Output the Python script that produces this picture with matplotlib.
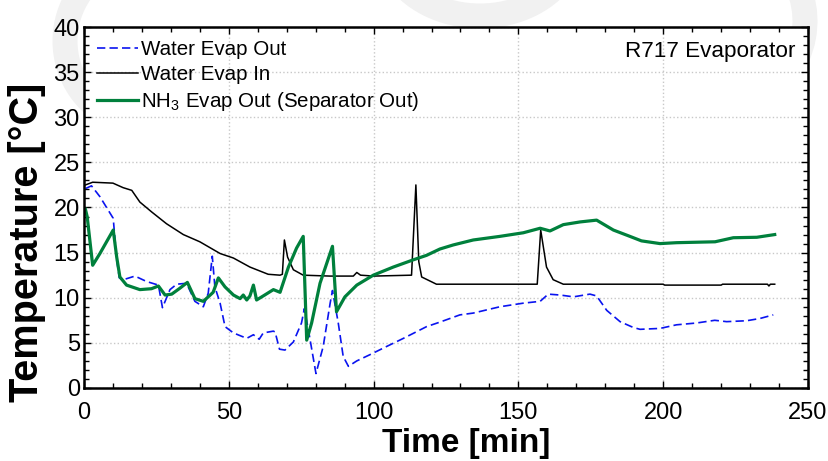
import numpy as np
import matplotlib.pyplot as plt
from matplotlib.ticker import MultipleLocator
from matplotlib.patches import Arc

plt.rcParams['font.family'] = ['Liberation Sans', 'DejaVu Sans']
plt.rcParams['mathtext.fontset'] = 'custom'
plt.rcParams['mathtext.rm'] = 'Liberation Sans'

# Water Evap In (black)
t_in = [0.5, 3, 10, 13.5, 16.5, 19.3, 23.4, 28.5, 34.3, 40, 47, 51.6, 57.3, 63.6, 67.7,
        68.5, 69.2, 70.3, 72.3, 75.7, 85, 93, 94.2, 95.5, 100, 113.1, 114.6, 115.6, 116.6,
        121.7, 156.5, 157.7, 159.7, 162, 165.5, 200, 200.5, 220, 220.5, 236, 236.5, 237, 238.5]
T_in = [22.5, 22.8, 22.7, 22.2, 21.9, 20.6, 19.5, 18.2, 17.0, 16.2, 14.9, 14.4, 13.4, 12.6, 12.5,
        12.6, 16.4, 14.5, 13.1, 12.5, 12.4, 12.4, 12.8, 12.5, 12.4, 12.5, 22.5, 14.0, 12.3,
        11.5, 11.5, 17.5, 13.4, 12.0, 11.5, 11.5, 11.4, 11.4, 11.5, 11.5, 11.3, 11.5, 11.5]

# Water Evap Out (blue dashed)
t_out = [0.5, 2.6, 5.5, 10.1, 11.3, 12.2, 13.6, 17.6, 21.6, 25.7, 27.1, 29.7, 32, 35.4, 38.3,
         41.2, 42.9, 44.3, 45.2, 47, 48.7, 51.6, 56.2, 58.5, 60.5, 61.9, 65.4, 66, 67.5, 69.4,
         72.3, 75.1, 76.1, 77.5, 80.1, 82.6, 85, 85.8, 87.8, 89.5, 91.3, 94.2, 98.8, 104.5,
         110.3, 118.3, 122.9, 129.8, 134.4, 143.6, 151.7, 157.5, 160.3, 164.4, 169, 174.7, 177,
         180.5, 185.1, 189.7, 192, 198.9, 204.6, 211.5, 217.8, 221.9, 228.8, 233.4, 238]
T_out = [22.1, 22.4, 21.2, 18.8, 14.2, 12.2, 12.0, 12.4, 11.8, 11.4, 8.9, 10.9, 11.5, 11.6, 9.6,
         9.0, 10.5, 14.6, 11.2, 9.4, 6.8, 6.1, 5.5, 5.9, 5.4, 6.1, 6.3, 6.2, 4.3, 4.2,
         5.1, 7.2, 8.8, 6.4, 1.6, 4.6, 9.4, 10.8, 7.2, 3.5, 2.4, 3.0, 3.7, 4.6,
         5.5, 6.8, 7.3, 8.1, 8.3, 9.0, 9.4, 9.6, 10.4, 10.3, 10.1, 10.4, 10.2,
         8.6, 7.35, 6.7, 6.5, 6.6, 7.0, 7.2, 7.5, 7.35, 7.45, 7.7, 8.1]

# NH3 Evap Out / separator out (green)
t_nh3 = [0.5, 1.1, 3, 5.5, 10.1, 11.3, 12.4, 14.7, 19.3, 23.3, 25.7, 28, 30.3, 33.1, 35.7,
         38.3, 41.2, 44.6, 46.4, 48.7, 51.6, 53.9, 55, 56.2, 57.3, 58.5, 59.6, 61.9, 65.4,
         67.7, 70.6, 73.4, 75.7, 76.9, 78.6, 81.5, 85.8, 87.2, 90.1, 94.2, 99.9, 106.8,
         113.7, 118.3, 122.9, 127.5, 134.4, 143.6, 151.7, 157.5, 160.9, 165.5, 171.3, 177,
         182.8, 188.5, 192.5, 198.9, 204.6, 217.9, 224.2, 232.3, 238.5]
T_nh3 = [19.8, 19.0, 13.6, 14.9, 17.5, 14.5, 12.3, 11.4, 10.9, 11.0, 11.3, 10.3, 10.4, 11.05, 11.7,
         9.9, 9.6, 10.6, 12.2, 11.2, 10.3, 9.9, 10.3, 9.75, 10.2, 11.4, 9.75, 10.2, 10.9,
         10.6, 13.4, 15.5, 16.8, 5.3, 7.2, 11.6, 15.7, 8.45, 10.1, 11.4, 12.5, 13.4,
         14.2, 14.7, 15.4, 15.85, 16.4, 16.8, 17.2, 17.7, 17.4, 18.1, 18.4, 18.6,
         17.5, 16.8, 16.3, 16.0, 16.1, 16.2, 16.65, 16.7, 17.0]

fig = plt.figure(figsize=(8.29, 4.61), dpi=100)

# faint background logo arcs (pixel coordinates)
for cx, cy, w, h, t1, t2 in [(150, 420, 170, 170, 110, 250),
                             (480, 520, 190, 150, 200, 340),
                             (690, 440, 230, 200, -30, 60)]:
    fig.add_artist(Arc((cx, cy), w, h, theta1=t1, theta2=t2, transform=None,
                       color='#f1f1f1', lw=18, zorder=0))

ax = fig.add_axes([0.1013, 0.1584, 0.8734, 0.783])
ax.set_facecolor('white')

ax.plot(t_out, T_out, color='#0a14f0', lw=1.2, dashes=(5, 2.5), label='Water Evap Out')
ax.plot(t_in, T_in, color='black', lw=1.1, label='Water Evap In')
ax.plot(t_nh3, T_nh3, color='#00803c', lw=2.3, label='NH$_3$ Evap Out (Separator Out)')

ax.set_xlim(0, 250)
ax.set_ylim(0, 40)
ax.xaxis.set_major_locator(MultipleLocator(50))
ax.xaxis.set_minor_locator(MultipleLocator(10))
ax.yaxis.set_major_locator(MultipleLocator(5))
ax.yaxis.set_minor_locator(MultipleLocator(1))
ax.tick_params(which='both', direction='in', top=True, right=True, labelsize=17)
ax.tick_params(axis='x', pad=10)
ax.tick_params(axis='y', pad=3)
ax.tick_params(which='major', length=5, width=1)
ax.tick_params(which='minor', length=3.5, width=1)
ax.grid(True, which='major', color='#c8c8c8', ls=':', lw=1)
for sp in ax.spines.values():
    sp.set_linewidth(1.8)

ax.set_xlabel('Time [min]', fontsize=24, fontweight='bold')
ax.set_ylabel('Temperature [°C]', fontsize=28.5, fontweight='bold')
ax.xaxis.set_label_coords(0.5276, -0.112)
ax.yaxis.set_label_coords(-0.079, 0.404)
ax.yaxis.label.set_va('center')

ax.text(0.982, 0.931, 'R717 Evaporator', transform=ax.transAxes, ha='right', va='center',
        fontsize=16.2)

ax.legend(loc='upper left', bbox_to_anchor=(0.0, 1.0), frameon=False, fontsize=14.8,
          handlelength=2.0, handletextpad=0.1, labelspacing=0.29, borderaxespad=0.25)

fig.savefig('out.png', dpi=100)
